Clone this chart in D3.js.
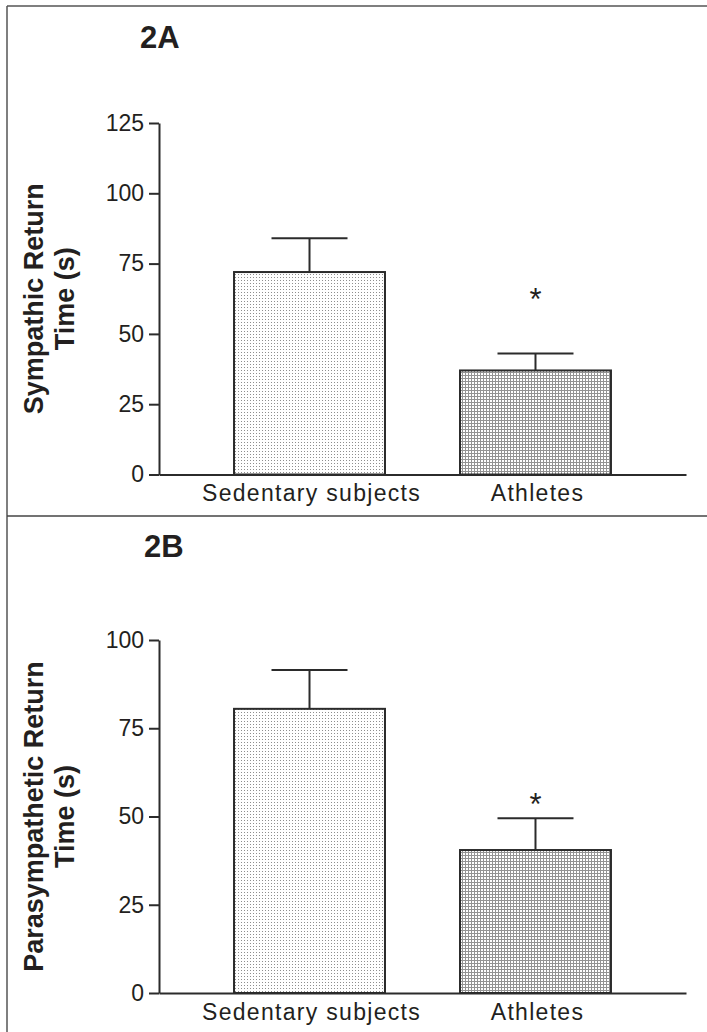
<!DOCTYPE html>
<html>
<head>
<meta charset="utf-8">
<script src="https://cdn.jsdelivr.net/npm/d3@7"></script>
<style>
  html, body { margin: 0; padding: 0; background: #fff; }
  svg { display: block; }
  text { font-family: "Liberation Sans", Arial, Helvetica, sans-serif; fill: #231f20; }
</style>
</head>
<body>
<svg id="fig" width="707" height="1032"></svg>
<script>
// Group labels shared by both panels
const categories = ["Sedentary subjects", "Athletes"];

// Panel 2A: sympathetic return time (mean and SEM, seconds)
const sympatheticMean = [72, 37];
const sympatheticSem = [12, 6];
const sympatheticTicks = [0, 25, 50, 75, 100, 125];
const sympatheticStarAt = 65;

// Panel 2B: parasympathetic return time (mean and SEM, seconds)
const parasympatheticMean = [80.5, 40.5];
const parasympatheticSem = [11, 9];
const parasympatheticTicks = [0, 25, 50, 75, 100];
const parasympatheticStarAt = 55.5;

// Groups that differ significantly from sedentary subjects
const significant = [false, true];

const svg = d3.select("#fig");
const ink = "#2b2b2b";

// Fill patterns: light dot screen and darker crosshatch screen
const defs = svg.append("defs");
const dots = defs.append("pattern").attr("id", "dots")
  .attr("patternUnits", "userSpaceOnUse").attr("width", 3).attr("height", 3);
dots.append("rect").attr("width", 3).attr("height", 3).attr("fill", "#fff");
dots.append("rect").attr("x", 1).attr("y", 1).attr("width", 1).attr("height", 1).attr("fill", "#8e8e8e");

const hatch = defs.append("pattern").attr("id", "hatch")
  .attr("patternUnits", "userSpaceOnUse").attr("width", 3).attr("height", 3);
hatch.append("rect").attr("width", 3).attr("height", 3).attr("fill", "#fff");
hatch.append("rect").attr("width", 3).attr("height", 1).attr("fill", "#939393");
hatch.append("rect").attr("width", 1).attr("height", 3).attr("fill", "#939393");

const fills = ["url(#dots)", "url(#hatch)"];

// Frame: top rule, left rule, and divider between the panels
svg.append("line").attr("x1", 7).attr("x2", 707).attr("y1", 6).attr("y2", 6)
  .attr("stroke", "#555").attr("stroke-width", 1.5);
svg.append("line").attr("x1", 7).attr("x2", 7).attr("y1", 6).attr("y2", 1032)
  .attr("stroke", "#555").attr("stroke-width", 1.5);
svg.append("line").attr("x1", 7).attr("x2", 707).attr("y1", 516).attr("y2", 516)
  .attr("stroke", "#444").attr("stroke-width", 1.5);

const panels = [
  { title: "2A", titleX: 140, titleY: 48, label: ["Sympathic Return", "Time (s)"],
    mean: sympatheticMean, sem: sympatheticSem, ticks: sympatheticTicks, star: sympatheticStarAt,
    yBottom: 474.5, yTop: 123 },
  { title: "2B", titleX: 144, titleY: 557, label: ["Parasympathetic Return", "Time (s)"],
    mean: parasympatheticMean, sem: parasympatheticSem, ticks: parasympatheticTicks, star: parasympatheticStarAt,
    yBottom: 993, yTop: 640 }
];

const axisX = 159, axisRight = 686;

panels.forEach(p => {
  const g = svg.append("g");
  const yMax = d3.max(p.ticks);
  const y = d3.scaleLinear().domain([0, yMax]).range([p.yBottom, p.yTop]);
  const x = d3.scaleBand().domain(categories).range([axisX, axisRight])
    .paddingInner(0.332).paddingOuter(0.332);

  // Panel title
  g.append("text").attr("x", p.titleX).attr("y", p.titleY)
    .attr("font-size", 31).attr("font-weight", "bold").text(p.title);

  // Bars
  g.selectAll("rect.bar").data(categories).join("rect")
    .attr("class", "bar")
    .attr("x", d => x(d))
    .attr("y", (d, i) => y(p.mean[i]))
    .attr("width", x.bandwidth())
    .attr("height", (d, i) => y(0) - y(p.mean[i]))
    .attr("fill", (d, i) => fills[i])
    .attr("stroke", ink).attr("stroke-width", 2);

  // Error bars (upper SEM)
  const capHalf = 38;
  categories.forEach((c, i) => {
    const cx = x(c) + x.bandwidth() / 2;
    const top = y(p.mean[i] + p.sem[i]);
    g.append("line").attr("x1", cx).attr("x2", cx)
      .attr("y1", y(p.mean[i])).attr("y2", top)
      .attr("stroke", ink).attr("stroke-width", 2);
    g.append("line").attr("x1", cx - capHalf).attr("x2", cx + capHalf)
      .attr("y1", top).attr("y2", top)
      .attr("stroke", ink).attr("stroke-width", 2);
    if (significant[i]) {
      g.append("text").attr("x", cx).attr("y", y(p.star) + 18)
        .attr("text-anchor", "middle").attr("font-size", 31).text("*");
    }
  });

  // Y axis
  const yAxis = d3.axisLeft(y).tickValues(p.ticks).tickSize(10).tickSizeOuter(0).tickPadding(5);
  const ya = g.append("g").attr("transform", `translate(${axisX},0)`).call(yAxis);
  ya.select(".domain").attr("stroke", ink).attr("stroke-width", 2);
  ya.selectAll(".tick line").attr("stroke", ink).attr("stroke-width", 2);
  ya.selectAll(".tick text").attr("font-size", 23).attr("fill", "#231f20")
    .attr("font-family", "'Liberation Sans', Arial, Helvetica, sans-serif");

  // X axis baseline with category labels
  const xAxis = d3.axisBottom(x).tickSize(0).tickSizeOuter(0).tickPadding(0);
  const xa = g.append("g").attr("transform", `translate(0,${y(0)})`).call(xAxis);
  xa.select(".domain").attr("stroke", ink).attr("stroke-width", 2);
  xa.selectAll(".tick text").attr("font-size", 23).attr("fill", "#231f20")
    .attr("font-family", "'Liberation Sans', Arial, Helvetica, sans-serif")
    .attr("letter-spacing", "1.3px")
    .attr("dy", null).attr("y", 26.5).attr("dx", 2);

  // Y axis title on two lines
  const midY = (p.yBottom + p.yTop) / 2;
  const yt = g.append("text").attr("transform", `translate(43,${midY}) rotate(-90)`)
    .attr("text-anchor", "middle").attr("font-size", 27).attr("font-weight", "bold");
  yt.append("tspan").attr("x", 0).attr("y", 0).text(p.label[0]);
  yt.append("tspan").attr("x", 0).attr("y", 31).text(p.label[1]);
});
</script>
</body>
</html>
